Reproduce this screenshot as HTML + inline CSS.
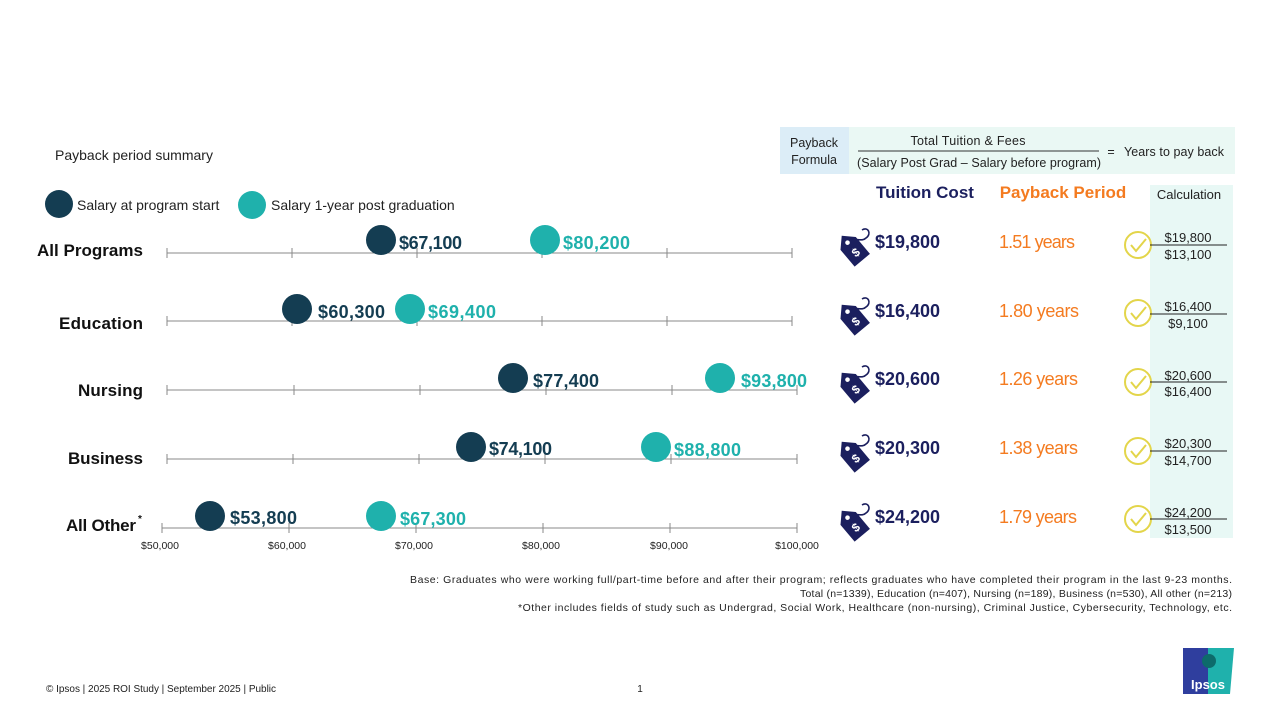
<!DOCTYPE html>
<html><head><meta charset="utf-8"><style>
html,body{margin:0;padding:0;background:#fff;}
svg{display:block;font-family:"Liberation Sans",sans-serif;}
</style></head><body>
<svg width="1280" height="720" viewBox="0 0 1280 720" xmlns="http://www.w3.org/2000/svg">
<defs>
<g id="tag">
 <path d="M10,-18 C16,-22 20,-14 14,-10 C10,-6 4,-10 -2,-8" fill="none" stroke="#1b1f5e" stroke-width="1.6"/>
 <g transform="rotate(-40)">
  <path d="M0,-16 L-10,-6 L-10,16 L10,16 L10,-6 Z" fill="#1b1f5e"/>
  <circle cx="0" cy="-7" r="2.3" fill="#fff"/>
  <text x="0" y="10" font-size="12" font-weight="bold" fill="#fff" text-anchor="middle">$</text>
 </g>
</g>
<g id="chk">
 <circle r="13" fill="none" stroke="#e3d54a" stroke-width="2"/>
 <path d="M-7,0 L-2,6 L8,-6" fill="none" stroke="#e3d54a" stroke-width="2"/>
</g>
</defs>

<rect x="780" y="127" width="69" height="47" fill="#dcedf7"/>
<rect x="849" y="127" width="386" height="47" fill="#eaf8f4"/>
<text x="814" y="147" font-size="12.5" fill="#222" text-anchor="middle">Payback</text>
<text x="814" y="164" font-size="12.5" fill="#222" text-anchor="middle">Formula</text>
<text x="968" y="145" font-size="12.5" fill="#222" text-anchor="middle" textLength="115">Total Tuition &amp; Fees</text>
<line x1="858" y1="151" x2="1099" y2="151" stroke="#333" stroke-width="1"/>
<text x="979" y="167" font-size="12.5" fill="#222" text-anchor="middle" textLength="244">(Salary Post Grad – Salary before program)</text>
<text x="1111" y="156" font-size="12.5" fill="#222" text-anchor="middle">=</text>
<text x="1174" y="156" font-size="12.5" fill="#222" text-anchor="middle" textLength="100">Years to pay back</text>

<rect x="1150" y="185" width="83" height="353" fill="#e8f8f5"/>
<text x="1189" y="199" font-size="13" fill="#222" text-anchor="middle">Calculation</text>
<text x="925" y="198" font-size="17" font-weight="bold" fill="#1b1f5e" text-anchor="middle">Tuition Cost</text>
<text x="1063" y="198" font-size="17" font-weight="bold" fill="#f47b20" text-anchor="middle">Payback Period</text>

<text x="55" y="160" font-size="14" fill="#222">Payback period summary</text>
<circle cx="59" cy="204" r="14" fill="#143d52"/>
<text x="77" y="210" font-size="14" fill="#222">Salary at program start</text>
<circle cx="252" cy="205" r="14" fill="#1fb1ac"/>
<text x="271" y="210" font-size="14" fill="#222">Salary 1-year post graduation</text>

<g stroke="#888" stroke-width="1" fill="none">
 <line x1="167" y1="253" x2="792" y2="253"/>
 <path d="M167 248v10M292 248v10M417 248v10M542 248v10M667 248v10M792 248v10"/>
 <line x1="167" y1="321" x2="792" y2="321"/>
 <path d="M167 316v10M292 316v10M417 316v10M542 316v10M667 316v10M792 316v10"/>
 <line x1="167" y1="390" x2="797" y2="390"/>
 <path d="M167 385v10M294 385v10M420 385v10M546 385v10M672 385v10M797 385v10"/>
 <line x1="167" y1="459" x2="797" y2="459"/>
 <path d="M167 454v10M293 454v10M419 454v10M545 454v10M671 454v10M797 454v10"/>
 <line x1="162" y1="528" x2="797" y2="528"/>
 <path d="M162 523v10M289 523v10M416 523v10M543 523v10M670 523v10M797 523v10"/>
</g>
<g font-size="10.5" fill="#222" text-anchor="middle">
 <text x="160" y="549">$50,000</text><text x="287" y="549">$60,000</text><text x="414" y="549">$70,000</text>
 <text x="541" y="549">$80,000</text><text x="669" y="549">$90,000</text><text x="797" y="549">$100,000</text>
</g>

<g font-size="17" font-weight="bold" fill="#111" text-anchor="end">
 <text x="143" y="256" textLength="106">All Programs</text>
 <text x="143" y="329" textLength="84">Education</text>
 <text x="143" y="396" textLength="65">Nursing</text>
 <text x="143" y="464" textLength="75">Business</text>
 <text x="136" y="531" textLength="70">All Other</text>
</g>
<text x="138" y="522" font-size="10" font-weight="bold" fill="#111">*</text>

<g font-size="18" font-weight="bold">
 <circle cx="381" cy="240" r="15" fill="#143d52"/><text x="399" y="249" fill="#143d52" textLength="63">$67,100</text>
 <circle cx="545" cy="240" r="15" fill="#1fb1ac"/><text x="563" y="249" fill="#1fb1ac" textLength="67">$80,200</text>
 <circle cx="297" cy="309" r="15" fill="#143d52"/><text x="318" y="318" fill="#143d52" textLength="67">$60,300</text>
 <circle cx="410" cy="309" r="15" fill="#1fb1ac"/><text x="428" y="318" fill="#1fb1ac" textLength="68">$69,400</text>
 <circle cx="513" cy="378" r="15" fill="#143d52"/><text x="533" y="387" fill="#143d52" textLength="66">$77,400</text>
 <circle cx="720" cy="378" r="15" fill="#1fb1ac"/><text x="741" y="387" fill="#1fb1ac" textLength="66">$93,800</text>
 <circle cx="471" cy="447" r="15" fill="#143d52"/><text x="489" y="455" fill="#143d52" textLength="63">$74,100</text>
 <circle cx="656" cy="447" r="15" fill="#1fb1ac"/><text x="674" y="456" fill="#1fb1ac" textLength="67">$88,800</text>
 <circle cx="210" cy="516" r="15" fill="#143d52"/><text x="230" y="524" fill="#143d52" textLength="67">$53,800</text>
 <circle cx="381" cy="516" r="15" fill="#1fb1ac"/><text x="400" y="525" fill="#1fb1ac" textLength="66">$67,300</text>
</g>

<use href="#tag" x="852" y="248"/>
<use href="#tag" x="852" y="317"/>
<use href="#tag" x="852" y="385"/>
<use href="#tag" x="852" y="454"/>
<use href="#tag" x="852" y="523"/>
<g font-size="18" font-weight="bold" fill="#1b1f5e">
 <text x="875" y="248">$19,800</text><text x="875" y="317">$16,400</text><text x="875" y="385">$20,600</text>
 <text x="875" y="454">$20,300</text><text x="875" y="523">$24,200</text>
</g>
<g font-size="18" fill="#f47b20">
 <text x="999" y="248" textLength="76">1.51 years</text><text x="999" y="317" textLength="80">1.80 years</text><text x="999" y="385" textLength="79">1.26 years</text>
 <text x="999" y="454" textLength="79">1.38 years</text><text x="999" y="523" textLength="78">1.79 years</text>
</g>
<use href="#chk" x="1138" y="245"/><use href="#chk" x="1138" y="313"/><use href="#chk" x="1138" y="382"/>
<use href="#chk" x="1138" y="451"/><use href="#chk" x="1138" y="519"/>
<g font-size="13" fill="#222" text-anchor="middle">
 <text x="1188" y="242">$19,800</text><text x="1188" y="259">$13,100</text>
 <text x="1188" y="311">$16,400</text><text x="1188" y="328">$9,100</text>
 <text x="1188" y="380">$20,600</text><text x="1188" y="396">$16,400</text>
 <text x="1188" y="448">$20,300</text><text x="1188" y="465">$14,700</text>
 <text x="1188" y="517">$24,200</text><text x="1188" y="534">$13,500</text>
</g>
<g stroke="#222" stroke-width="1">
 <line x1="1150" y1="245" x2="1227" y2="245"/><line x1="1150" y1="314" x2="1227" y2="314"/>
 <line x1="1150" y1="382" x2="1227" y2="382"/><line x1="1150" y1="451" x2="1227" y2="451"/>
 <line x1="1150" y1="519" x2="1227" y2="519"/>
</g>

<g font-size="10.5" fill="#222" text-anchor="end">
 <text x="1232" y="583" textLength="822">Base: Graduates who were working full/part-time before and after their program; reflects graduates who have completed their program in the last 9-23 months.</text>
 <text x="1232" y="597" textLength="432">Total (n=1339), Education (n=407), Nursing (n=189), Business (n=530), All other (n=213)</text>
 <text x="1232" y="611" textLength="714">*Other includes fields of study such as Undergrad, Social Work, Healthcare (non-nursing), Criminal Justice, Cybersecurity, Technology, etc.</text>
</g>
<text x="46" y="692" font-size="10" fill="#222" textLength="230">© Ipsos | 2025 ROI Study | September 2025 | Public</text>
<text x="640" y="692" font-size="10" fill="#222" text-anchor="middle">1</text>

<rect x="1183" y="648" width="25" height="46" fill="#2f3e9e"/>
<path d="M1208,648 L1234,648 L1230,694 L1208,694 Z" fill="#1fb1ac"/>
<circle cx="1209" cy="661" r="7" fill="#0d6b6b"/>
<text x="1208" y="689" font-size="13" font-weight="bold" fill="#fff" text-anchor="middle">Ipsos</text>
</svg>
</body></html>
